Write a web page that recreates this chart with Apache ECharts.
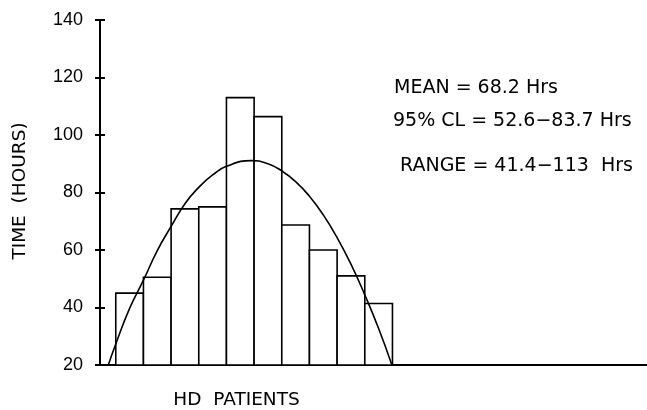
<!DOCTYPE html>
<html>
<head>
<meta charset="utf-8">
<script src="https://cdn.jsdelivr.net/npm/echarts@6/dist/echarts.min.js"></script>
<style>
html,body{margin:0;padding:0;background:#fff;}
#chart{width:647px;height:410px;}
</style>
</head>
<body>
<div id="chart"></div>
<script>
// Histogram of HD patients: each bar occupies [index, index+1] on the x scale
const barIndex = [0, 1, 2, 3, 4, 5, 6, 7, 8, 9];
const barValues = [45, 50.5, 74.3, 75, 113, 106.4, 68.7, 60, 51, 41.4];
// Fitted curve points
const curveX = [-0.27, 0, 0.5, 1, 1.5, 2, 2.5, 3, 3.5, 4, 4.9, 5.5, 6, 6.5, 7, 7.5, 8, 8.5, 9, 9.5, 9.98];
const curveY = [20, 27.3, 39.7, 49.5, 59.8, 68.2, 76.1, 81.8, 86.1, 89.1, 91.1, 90, 87.5, 83.8, 78.7, 72.2, 64.3, 55.1, 44.4, 32.7, 20];
const yTicks = [20, 40, 60, 80, 100, 120, 140];
const statLines = ['MEAN = 68.2 Hrs', '95% CL = 52.6\u221283.7 Hrs', 'RANGE = 41.4\u2212113  Hrs'];
const yTitle = 'TIME  (HOURS)';
const xTitle = 'HD  PATIENTS';

const chart = echarts.init(document.getElementById('chart'), null, {renderer: 'canvas'});

const yMin = yTicks[0], yMax = yTicks[yTicks.length - 1];
const yStep = yTicks[1] - yTicks[0];

const statFont = '19px "DejaVu Sans"';

const option = {
  backgroundColor: '#fff',
  animation: false,
  textStyle: {fontFamily: '"Liberation Sans", Arial, sans-serif'},
  grid: {left: 100, right: 0, top: 20, bottom: 45, containLabel: false},
  xAxis: {
    type: 'value', min: -0.57, max: 19.2,
    axisLine: {show: true, onZero: false, lineStyle: {color: '#000', width: 2}},
    axisTick: {show: false}, axisLabel: {show: false}, splitLine: {show: false}
  },
  yAxis: [
    {
      type: 'value', min: yMin, max: yMax, interval: yStep, position: 'left',
      splitLine: {show: false},
      axisLine: {show: true, onZero: false, lineStyle: {color: '#000', width: 2}},
      axisTick: {show: true, inside: false, length: 5, lineStyle: {color: '#000', width: 2}},
      axisLabel: {
        show: true, color: '#000', fontSize: 18, margin: 17,
        fontFamily: '"Liberation Sans", Arial, sans-serif'
      }
    },
    {
      type: 'value', min: yMin, max: yMax, interval: yStep, position: 'left',
      splitLine: {show: false},
      axisLine: {show: false, onZero: false},
      axisTick: {show: true, inside: true, length: 5, lineStyle: {color: '#000', width: 2}},
      axisLabel: {show: false}
    }
  ],
  series: [
    {
      type: 'custom',
      z: 2,
      data: barIndex.map((i, k) => [i, barValues[k]]),
      renderItem: function (params, api) {
        const i = api.value(0), v = api.value(1);
        const p0 = api.coord([i, v]);
        const p1 = api.coord([i + 1, yMin]);
        return {
          type: 'rect',
          shape: {x: p0[0], y: p0[1], width: p1[0] - p0[0], height: p1[1] - p0[1]},
          style: {fill: '#fff', stroke: '#000', lineWidth: 1.6}
        };
      }
    },
    {
      type: 'line',
      z: 3,
      smooth: 0.5,
      showSymbol: false,
      data: curveX.map((x, k) => [x, curveY[k]]),
      lineStyle: {color: '#000', width: 1.6}
    }
  ],
  graphic: [
    {type: 'text', x: 394, y: 88.5, style: {text: statLines[0], font: statFont, fill: '#000', verticalAlign: 'middle'}},
    {type: 'text', x: 393, y: 121.5, style: {text: statLines[1], font: statFont, fill: '#000', verticalAlign: 'middle'}},
    {type: 'text', x: 400, y: 166.5, style: {text: statLines[2], font: statFont, fill: '#000', verticalAlign: 'middle'}},
    {type: 'text', x: 20, y: 191, rotation: Math.PI / 2,
      style: {text: yTitle, font: '18.5px "DejaVu Sans"', fill: '#000', align: 'center', verticalAlign: 'middle'}},
    {type: 'text', x: 236.5, y: 400.5,
      style: {text: xTitle, font: '18.5px "DejaVu Sans"', fill: '#000', align: 'center', verticalAlign: 'middle'}}
  ]
};
chart.setOption(option);
</script>
</body>
</html>
